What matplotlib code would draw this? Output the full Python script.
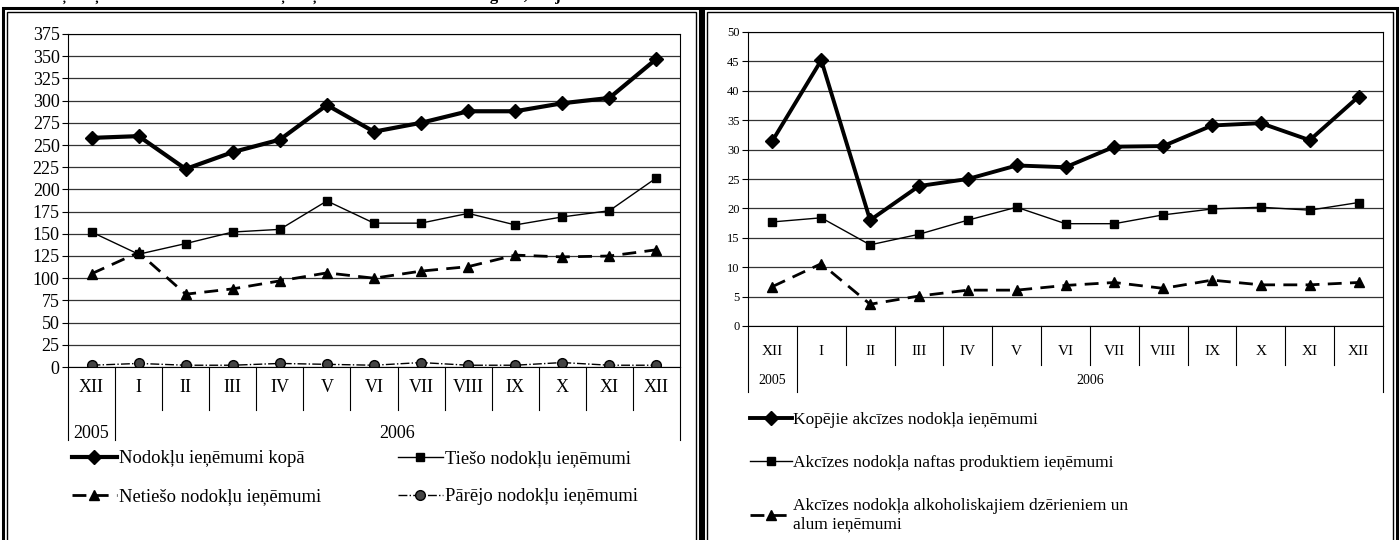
import numpy as np
import matplotlib.pyplot as plt
from matplotlib.patches import Rectangle

plt.rcParams["font.family"] = ["Liberation Serif", "DejaVu Serif"]

months = ["XII", "I", "II", "III", "IV", "V", "VI", "VII", "VIII", "IX", "X", "XI", "XII"]
years = ["2005", "2006"]

# left chart: tax revenue, milj. Ls
total_tax = [258, 260, 223, 242, 256, 295, 265, 275, 288, 288, 297, 303, 347]
direct_tax = [152, 127, 139, 152, 155, 187, 162, 162, 173, 160, 169, 176, 213]
indirect_tax = [105, 129, 82, 88, 97, 106, 100, 108, 113, 126, 124, 125, 132]
other_tax = [2, 4, 2, 2, 4, 3, 2, 5, 2, 2, 5, 2, 2]

# right chart: excise tax revenue
excise_total = [31.5, 45.2, 18.0, 23.8, 25.0, 27.3, 27.0, 30.5, 30.6, 34.1, 34.5, 31.6, 39.0]
excise_oil = [17.7, 18.4, 13.8, 15.6, 18.0, 20.2, 17.4, 17.4, 18.9, 19.9, 20.2, 19.7, 21.0]
excise_alcohol = [6.7, 10.6, 3.7, 5.1, 6.1, 6.1, 6.9, 7.4, 6.4, 7.8, 7.0, 7.0, 7.4]

x = np.arange(len(months))

fig = plt.figure(figsize=(14, 5.4), dpi=100)

# heading, mostly cut off by the top edge as in the scan
fig.text(0.011, 1.0, "Nodokļu ieņēmumu un akcīzes nodokļa ieņēmumu dinamika 2006. gadā, milj. Ls",
         fontsize=12, fontweight="bold", va="baseline", ha="left")

# double borders of the two panels
for x0, x1 in [(3, 700), (703, 1397)]:
    fig.patches.append(Rectangle((x0 / 1400, -0.05), (x1 - x0) / 1400, 1.05 - 8 / 540,
                                 transform=fig.transFigure, fill=False, lw=2.2, ec="black"))
    fig.patches.append(Rectangle(((x0 + 4) / 1400, -0.05), (x1 - x0 - 8) / 1400, 1.05 - 12 / 540,
                                 transform=fig.transFigure, fill=False, lw=1.0, ec="black"))


def category_axis(ax, month_drop, year_drop, month_pad, year_y, size, year_size):
    ax.set_xlim(-0.5, len(months) - 0.5)
    ax.set_xticks(x)
    ax.set_xticklabels(months, fontsize=size)
    ax.tick_params(axis="x", length=0, pad=month_pad)
    tr = ax.get_xaxis_transform()
    for b in np.arange(-0.5, len(months), 1.0):
        if b in (-0.5, 0.5, len(months) - 0.5):
            ax.plot([b, b], [0, -year_drop], color="black", lw=0.8, transform=tr, clip_on=False)
        else:
            ax.plot([b, b], [0, -month_drop], color="black", lw=0.8, transform=tr, clip_on=False)
    ax.text(0, year_y, years[0], transform=tr, ha="center", va="center", fontsize=year_size)
    ax.text((0.5 + len(months) - 0.5) / 2, year_y, years[1], transform=tr,
            ha="center", va="center", fontsize=year_size)


# ---- left chart ----
ax1 = fig.add_axes([68 / 1400, 1 - 367 / 540, 612 / 1400, 333 / 540])
ax1.plot(x, total_tax, color="black", lw=3, marker="D", ms=7.5, label="Nodokļu ieņēmumi kopā")
ax1.plot(x, direct_tax, color="black", lw=1, marker="s", ms=6, label="Tiešo nodokļu ieņēmumi")
ax1.plot(x, indirect_tax, color="black", lw=2, ls=(0, (5, 3)), marker="^", ms=7,
         label="Netiešo nodokļu ieņēmumi")
ax1.plot(x, other_tax, color="black", lw=1, ls="-.", marker="o", ms=7, mfc="#444444",
         label="Pārējo nodokļu ieņēmumi")
ax1.set_ylim(0, 375)
ax1.set_yticks(np.arange(0, 376, 25))
ax1.tick_params(axis="y", labelsize=13, length=4, pad=2)
ax1.grid(axis="y", color="#333333", lw=0.9)
ax1.set_axisbelow(True)
category_axis(ax1, 43 / 333, 73 / 333, 9, -66 / 333, 13, 13)

h, l = ax1.get_legend_handles_labels()
order = [0, 2, 1, 3]
fig.legend([h[i] for i in order], [l[i] for i in order], ncol=2, frameon=False,
           loc="upper left", bbox_to_anchor=(72 / 1400, 1 - 450 / 540),
           fontsize=13.4, handlelength=2.4, handletextpad=0.1, labelspacing=1.15,
           columnspacing=4.15, borderaxespad=0, borderpad=0)

# ---- right chart ----
ax2 = fig.add_axes([748 / 1400, 1 - 326 / 540, 635 / 1400, 294 / 540])
ax2.plot(x, excise_total, color="black", lw=2.8, marker="D", ms=7, label="Kopējie akcīzes nodokļa ieņēmumi")
ax2.plot(x, excise_oil, color="black", lw=1, marker="s", ms=6,
         label="Akcīzes nodokļa naftas produktiem ieņēmumi")
ax2.plot(x, excise_alcohol, color="black", lw=2, ls=(0, (5, 3)), marker="^", ms=7,
         label="Akcīzes nodokļa alkoholiskajiem dzērieniem un\nalum ieņēmumi")
ax2.set_ylim(0, 50)
ax2.set_yticks(np.arange(0, 51, 5))
ax2.tick_params(axis="y", labelsize=9, length=4, pad=2)
ax2.grid(axis="y", color="#333333", lw=0.9)
ax2.set_axisbelow(True)
category_axis(ax2, 39 / 294, 66 / 294, 14, -55 / 294, 11, 10)

fig.legend(*ax2.get_legend_handles_labels(), ncol=1, frameon=False,
           loc="upper left", bbox_to_anchor=(750 / 1400, 1 - 412 / 540),
           fontsize=12.5, handlelength=2.4, handletextpad=0.1, labelspacing=1.55,
           borderaxespad=0, borderpad=0)

fig.savefig("out.png", dpi=100)
